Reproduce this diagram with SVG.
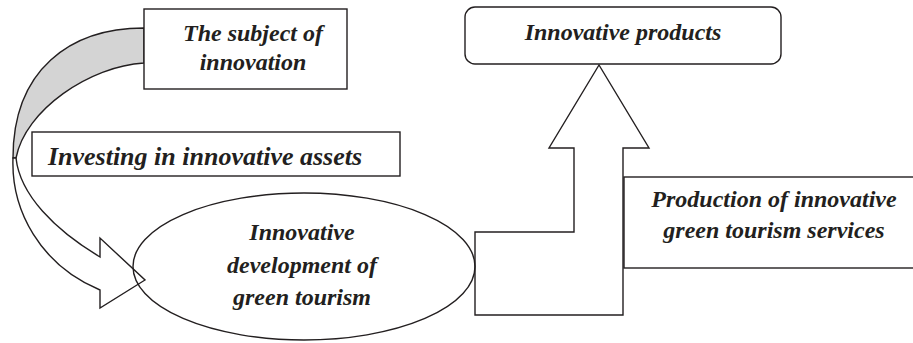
<svg xmlns="http://www.w3.org/2000/svg" width="913" height="343" viewBox="0 0 913 343">
<style>
.shape{fill:#fff;stroke:#231f20;stroke-width:1.4}
.t{font-family:"Liberation Serif","Times New Roman",serif;font-weight:bold;font-style:italic;font-size:24px;fill:#231f20;text-anchor:middle}
</style>
<rect width="913" height="343" fill="#fff"/>
<g id="connectors">
  <path id="curved-arrow-back" d="M144,28 C70,28 13,70 13,158 L16,158 C25,110 90,66 144,63 Z" fill="#d4d4d4" stroke="#231f20" stroke-width="1.4"/>
  <path id="curved-arrow-front" class="shape" d="M13,158 C11,210 40,265 100,290 L100,308 L145,280 L100,238 L100,257 C55,230 20,195 16,158 Z"/>
  <path id="up-arrow" class="shape" d="M475,315 L475,232 L574,232 L574,148 L549,148 L599,65 L649,148 L623,148 L623,315 Z"/>
</g>
<g id="subject">
  <rect class="shape" x="144" y="9" width="203" height="80"/>
  <text class="t" x="253" y="41">The subject of</text>
  <text class="t" x="253" y="70">innovation</text>
</g>
<g id="investing">
  <rect class="shape" x="32" y="132" width="368" height="44"/>
  <text class="t" x="205" y="165" style="font-size:26px">Investing in innovative assets</text>
</g>
<g id="development">
  <ellipse cx="304" cy="266.5" rx="171" ry="73.5" fill="none" stroke="#231f20" stroke-width="1.4"/>
  <text class="t" x="302" y="240">Innovative</text>
  <text class="t" x="302" y="273">development of</text>
  <text class="t" x="302" y="305">green tourism</text>
</g>
<g id="products">
  <rect class="shape" x="465" y="7" width="316" height="57" rx="10" ry="10"/>
  <text class="t" x="623" y="40">Innovative products</text>
</g>
<g id="production">
  <rect class="shape" x="624" y="177" width="300" height="91"/>
  <text class="t" x="774" y="207">Production of innovative</text>
  <text class="t" x="774" y="238">green tourism services</text>
</g>
</svg>
